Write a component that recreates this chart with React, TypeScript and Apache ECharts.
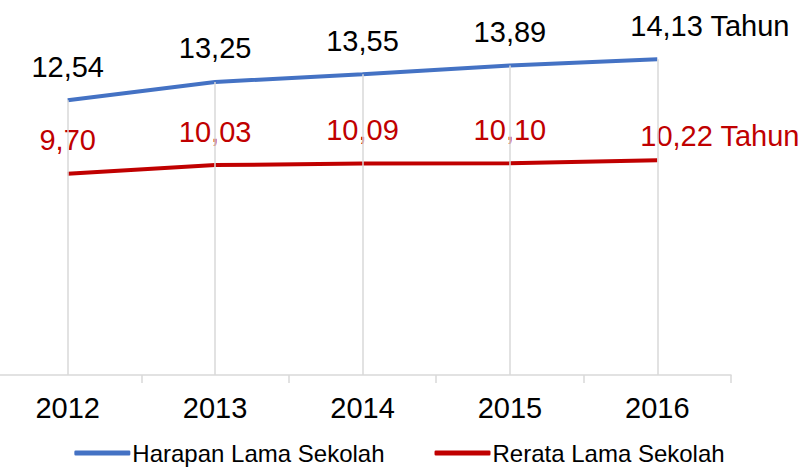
import React, { useEffect, useRef } from "react";
import * as echarts from "echarts";

const categories = ["2012", "2013", "2014", "2015", "2016"];
const harapan = [12.54, 13.25, 13.55, 13.89, 14.13];
const rerata = [9.7, 10.03, 10.09, 10.1, 10.22];
const seriesNames = ["Harapan Lama Sekolah", "Rerata Lama Sekolah"];
const unitSuffix = " Tahun";
const yMin = 1.9;
const yMax = 16;

const fmt = (v: number) => v.toFixed(2).replace(".", ",");

export default function App() {
  const ref = useRef<HTMLDivElement>(null);
  useEffect(() => {
    if (!ref.current) return;
    const chart = echarts.init(ref.current, undefined, { renderer: "svg" });
    const font = "'Liberation Sans', Arial, sans-serif";
    const last = categories.length - 1;
    const labelData = (vals: number[], color: string, lastOffset: number[], lastDist: number) =>
      vals.map((v, i) =>
        i === last
          ? {
              value: v,
              label: {
                formatter: fmt(v) + unitSuffix,
                align: "left",
                offset: lastOffset,
                distance: lastDist,
                color,
              },
            }
          : v
      );
    chart.setOption({
      animation: false,
      textStyle: { fontFamily: font },
      grid: { left: 0, right: 74, top: 11, bottom: 99 },
      legend: {
        data: seriesNames,
        bottom: 4,
        left: "center",
        icon: "roundRect",
        itemWidth: 56,
        itemHeight: 5,
        itemGap: 50,
        textStyle: { fontSize: 24, color: "#000", fontFamily: font, padding: [0, 0, 0, -3] },
      },
      xAxis: {
        type: "category",
        data: categories,
        boundaryGap: true,
        axisLine: { lineStyle: { color: "#d9d9d9", width: 1.5 } },
        axisTick: { show: true, length: 8, lineStyle: { color: "#d9d9d9", width: 1.5 } },
        axisLabel: { fontSize: 29, color: "#000", margin: 18, fontFamily: font },
        splitLine: { show: false },
      },
      yAxis: {
        type: "value",
        min: yMin,
        max: yMax,
        show: false,
        splitLine: { show: false },
      },
      series: [
        {
          name: "drop",
          type: "line",
          data: [],
          z: 1,
          silent: true,
          markLine: {
            silent: true,
            symbol: "none",
            animation: false,
            label: { show: false },
            lineStyle: { color: "#d9d9d9", width: 1.5, type: "solid" },
            data: categories.map((c, i) => [
              { coord: [c, harapan[i]] },
              { coord: [c, yMin] },
            ]),
          },
        },
        {
          name: seriesNames[0],
          type: "line",
          z: 3,
          data: labelData(harapan, "#000", [-27, 0], 19),
          showSymbol: true,
          symbol: "circle",
          symbolSize: 0,
          lineStyle: { color: "#4472C4", width: 4 },
          itemStyle: { color: "#4472C4" },
          label: {
            show: true,
            position: "top",
            distance: 19,
            fontSize: 29,
            color: "#000",
            fontFamily: font,
            formatter: (p: any) => fmt(p.value),
          },
        },
        {
          name: seriesNames[1],
          type: "line",
          z: 3,
          data: labelData(rerata, "#C00000", [-17, 0], 10),
          showSymbol: true,
          symbol: "circle",
          symbolSize: 0,
          lineStyle: { color: "#C00000", width: 4 },
          itemStyle: { color: "#C00000" },
          label: {
            show: true,
            position: "top",
            distance: 19,
            fontSize: 29,
            color: "#C00000",
            fontFamily: font,
            formatter: (p: any) => fmt(p.value),
          },
        },
      ],
    });
    return () => chart.dispose();
  }, []);
  return (
    <div style={{ position: "fixed", left: 0, top: 0, width: 805, height: 474, overflow: "hidden", background: "#fff" }}>
      <div
        ref={ref}
        style={{ position: "absolute", left: -6, top: 0, width: 811, height: 474 }}
      />
    </div>
  );
}
